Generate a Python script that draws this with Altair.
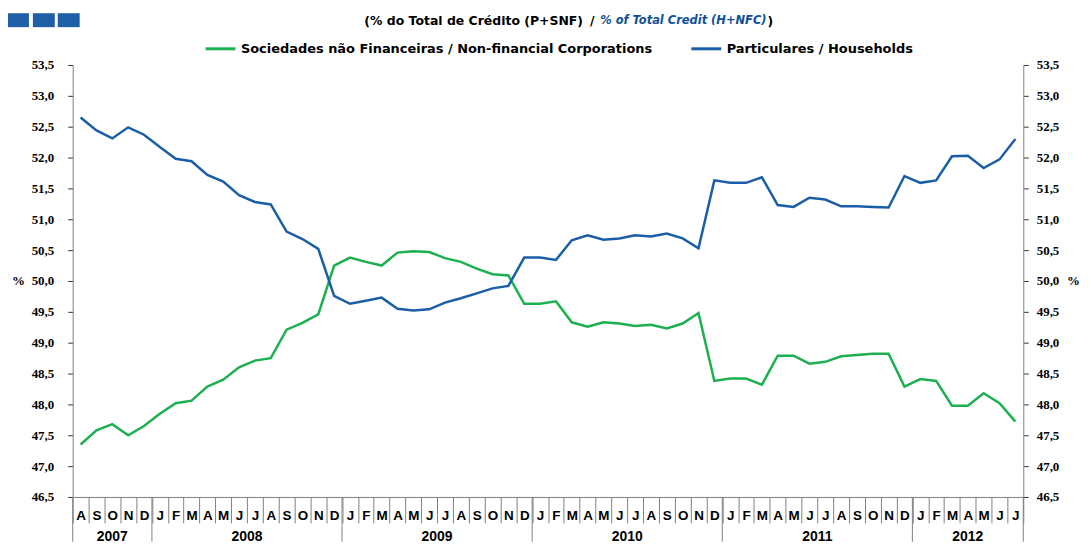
import altair as alt
import pandas as pd

months = ["A", "S", "O", "N", "D",
          "J", "F", "M", "A", "M", "J", "J", "A", "S", "O", "N", "D",
          "J", "F", "M", "A", "M", "J", "J", "A", "S", "O", "N", "D",
          "J", "F", "M", "A", "M", "J", "J", "A", "S", "O", "N", "D",
          "J", "F", "M", "A", "M", "J", "J", "A", "S", "O", "N", "D",
          "J", "F", "M", "A", "M", "J", "J"]

nfc = [47.35, 47.58, 47.68, 47.50, 47.65, 47.85, 48.02, 48.06, 48.29, 48.40,
       48.60, 48.71, 48.75, 49.21, 49.32, 49.46, 50.25, 50.38, 50.31, 50.25,
       50.46, 50.48, 50.47, 50.37, 50.31, 50.20, 50.11, 50.09, 49.63, 49.63,
       49.67, 49.33, 49.26, 49.33, 49.31, 49.27, 49.29, 49.23, 49.31, 49.48,
       48.38, 48.42, 48.42, 48.32, 48.79, 48.79, 48.66, 48.69, 48.78, 48.80,
       48.82, 48.82, 48.29, 48.41, 48.38, 47.98, 47.98, 48.18, 48.02, 47.72]

hh = [52.65, 52.44, 52.31, 52.49, 52.37, 52.17, 51.98, 51.94, 51.72, 51.61,
      51.39, 51.28, 51.24, 50.80, 50.68, 50.52, 49.76, 49.63, 49.68, 49.73,
      49.55, 49.52, 49.54, 49.65, 49.72, 49.80, 49.88, 49.92, 50.38, 50.38,
      50.34, 50.66, 50.74, 50.67, 50.69, 50.74, 50.72, 50.77, 50.69, 50.53,
      51.63, 51.59, 51.59, 51.68, 51.23, 51.20, 51.35, 51.32, 51.21, 51.21,
      51.20, 51.19, 51.70, 51.59, 51.63, 52.02, 52.03, 51.83, 51.97, 52.30]

years = ["2007", "2008", "2009", "2010", "2011", "2012"]
year_start = [0, 5, 17, 29, 41, 53]
year_end = [5, 17, 29, 41, 53, 60]

y_ticks = [46.5, 47.0, 47.5, 48.0, 48.5, 49.0, 49.5, 50.0, 50.5, 51.0,
           51.5, 52.0, 52.5, 53.0, 53.5]

nfc_label = "Sociedades não Financeiras / Non-financial Corporations"
hh_label = "Particulares / Households"
title_pt = "(% do Total de Crédito (P+SNF)"
title_sep = "/"
title_en = "% of Total Credit (H+NFC)"
title_end = ")"

BLUE = "#1B5EA8"
TITLE_BLUE = "#0F4F96"
GREEN = "#1DB050"
GRAY = "#808080"
SANS = "Liberation Sans"
WIDE = "DejaVu Sans"
SERIF = "Liberation Serif"

W, H = 955, 434
BAND = W / len(months)

rows = []
for i, (a, b) in enumerate(zip(nfc, hh)):
    rows.append({"pos": i + 0.5, "series": nfc_label, "value": a})
    rows.append({"pos": i + 0.5, "series": hh_label, "value": b})
df = pd.DataFrame(rows)

ydf = pd.DataFrame({"year": years, "start": year_start, "end": year_end})
ydf["mid"] = (ydf["start"] + ydf["end"]) / 2
bdf = pd.DataFrame({"b": sorted(set(year_start + year_end))})

x_scale = alt.Scale(domain=[0, len(months)], nice=False, zero=False)
y_scale = alt.Scale(domain=[46.5, 53.5], nice=False, zero=False)

month_expr = "[" + ",".join("'%s'" % m for m in months) + ",''][datum.value]"
num_expr = "replace(format(datum.value, '.1f'), '.', ',')"

x_axis = alt.Axis(values=list(range(len(months) + 1)), labelExpr=month_expr,
                  tickSize=26, tickColor=GRAY, tickWidth=1, domainColor=GRAY,
                  labelOffset=BAND / 2, labelPadding=-14, labelBaseline="top",
                  labelAlign="center", labelAngle=0,
                  labelFont=SANS, labelFontWeight="bold", labelFontSize=13.5,
                  labelColor="black", labelOverlap=False, labelFlush=False,
                  labelBound=False, grid=False, title=None)


def y_axis(orient, pad, tx):
    return alt.Axis(orient=orient, values=y_ticks, labelExpr=num_expr, grid=False,
                    tickSize=5, tickColor="#333333", domainColor=GRAY,
                    labelFont=SERIF, labelFontWeight="bold", labelFontSize=13,
                    labelColor="black", labelPadding=pad, labelOverlap=False,
                    labelFlush=False,
                    title="%", titleAngle=0, titleX=tx, titleY=H / 2,
                    titleFont=SERIF, titleFontWeight="bold", titleFontSize=13,
                    titleAlign="center", titleBaseline="middle", titleColor="black")


lines = alt.Chart(df).mark_line(strokeWidth=2.5).encode(
    x=alt.X("pos:Q", scale=x_scale, axis=x_axis),
    y=alt.Y("value:Q", scale=y_scale, axis=y_axis("left", 14, -55)),
    color=alt.Color("series:N",
                    scale=alt.Scale(domain=[nfc_label, hh_label], range=[GREEN, BLUE]),
                    legend=alt.Legend(orient="none", legendX=132, legendY=-33,
                                      direction="horizontal", title=None,
                                      symbolType="stroke", symbolSize=900,
                                      symbolStrokeWidth=3, labelFont=WIDE,
                                      labelFontWeight="bold", labelFontSize=13,
                                      labelColor="black", labelLimit=600,
                                      labelOffset=4, columnPadding=32, padding=0)),
)

right = alt.Chart(df).mark_line(strokeOpacity=0).encode(
    x=alt.X("pos:Q", scale=x_scale, axis=x_axis),
    y=alt.Y("value:Q", scale=y_scale, axis=y_axis("right", 8, 50)),
    detail="series:N",
)

year_rules = alt.Chart(bdf).mark_rule(color=GRAY, strokeWidth=1).encode(
    x=alt.X("b:Q", scale=x_scale, axis=x_axis),
    y=alt.value(H),
    y2=alt.value(H + 45),
)

year_text = alt.Chart(ydf).mark_text(font=SANS, fontWeight="bold", fontSize=14,
                                     baseline="middle", align="center", color="black").encode(
    x=alt.X("mid:Q", scale=x_scale, axis=x_axis),
    y=alt.value(H + 40),
    text="year:N",
)


def label(txt, x, size=12.5, **kw):
    return alt.Chart(pd.DataFrame({"t": [txt]})).mark_text(
        font=WIDE, fontWeight="bold", fontSize=size, baseline="middle", **kw
    ).encode(text="t:N", x=alt.value(x), y=alt.value(-44))


t1 = label(title_pt, 293, align="left", color="black")
t2 = label(title_sep, 522, align="center", color="black")
t3 = label(title_en, 530, size=11.5, align="left", color=TITLE_BLUE, fontStyle="italic")
t4 = label(title_end, 698, align="left", color="black")

sq_df = pd.DataFrame({"k": [0]})


def square(x0, x1):
    return alt.Chart(sq_df).mark_rect(color="#1F5FA8").encode(
        x=alt.value(x0), x2=alt.value(x1), y=alt.value(-52), y2=alt.value(-38))


squares = [square(-65, -44), square(-40, -18), square(-15, 7)]

chart = alt.layer(
    *squares, t1, t2, t3, t4, lines, right, year_rules, year_text
).resolve_axis(y="independent").properties(
    width=W, height=H,
    autosize=alt.AutoSizeParams(type="none"),
    padding={"left": 65, "top": 56, "right": 60, "bottom": 45},
).configure_view(stroke=None)

chart.save("out.html", embed_options={"renderer": "svg", "actions": False})
